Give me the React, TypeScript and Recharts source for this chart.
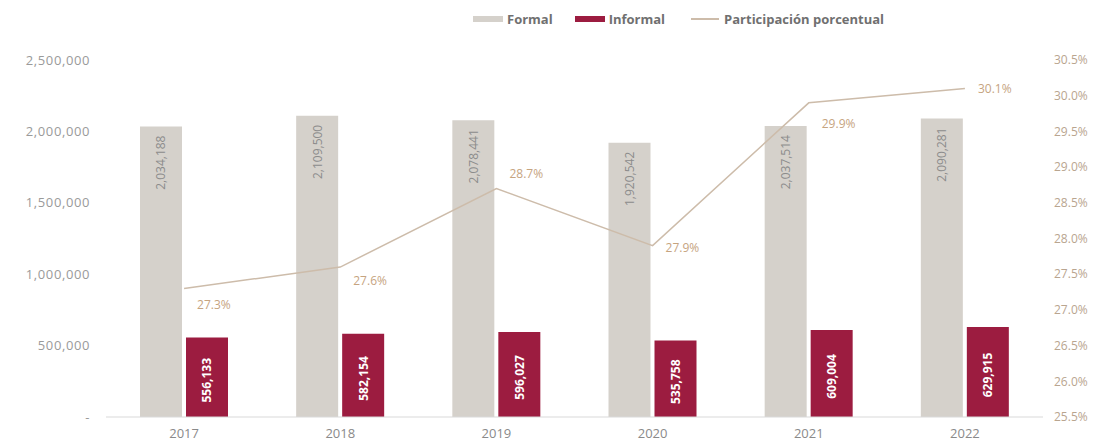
import React from 'react';
import {
  ComposedChart,
  Bar,
  Line,
  XAxis,
  YAxis,
  LabelList,
} from 'recharts';

const years = ['2017', '2018', '2019', '2020', '2021', '2022'];
const formal = [2034188, 2109500, 2078441, 1920542, 2037514, 2090281];
const informal = [556133, 582154, 596027, 535758, 609004, 629915];
const participacion = [27.3, 27.6, 28.7, 27.9, 29.9, 30.1];

const leftTicks = [0, 500000, 1000000, 1500000, 2000000, 2500000];
const rightTicks = [25.5, 26, 26.5, 27, 27.5, 28, 28.5, 29, 29.5, 30, 30.5];

const data = years.map((year, i) => ({
  year,
  formal: formal[i],
  informal: informal[i],
  pct: participacion[i],
}));

// vertical nudge of each percentage label relative to its point
const pctLabelDy = [16, 13, -15, 2, 21, 0];

const FONT = '"Open Sans", sans-serif';
const C_FORMAL = '#d5d1cb';
const C_INFORMAL = '#9c1c40';
const C_LINE = '#cdbcaa';
const C_PCT = '#c6a47f';

const fmt = (v: number) => v.toLocaleString('en-US');

const FormalLabel = (props: any) => {
  const { x, y, width, value } = props;
  const cx = x + width / 2;
  const ty = y + 9;
  return (
    <text
      x={cx}
      y={ty}
      transform={`rotate(-90, ${cx}, ${ty})`}
      textAnchor="end"
      dominantBaseline="central"
      fill="#8c8c8c"
      fontSize={12}
      fontFamily={FONT}
    >
      {fmt(value)}
    </text>
  );
};

const InformalLabel = (props: any) => {
  const { x, y, width, height, value } = props;
  const cx = x + width / 2;
  const cy = y + height / 2 + 3;
  return (
    <text
      x={cx}
      y={cy}
      transform={`rotate(-90, ${cx}, ${cy})`}
      textAnchor="middle"
      dominantBaseline="central"
      fill="#ffffff"
      fontSize={12}
      fontWeight={700}
      fontFamily={FONT}
    >
      {fmt(value)}
    </text>
  );
};

const PctLabel = (props: any) => {
  const { x, y, value, index } = props;
  return (
    <text
      x={x + 13}
      y={y + pctLabelDy[index]}
      textAnchor="start"
      dominantBaseline="central"
      fill={C_PCT}
      fontSize={12}
      fontFamily={FONT}
    >
      {value.toFixed(1)}%
    </text>
  );
};

const legendText: React.CSSProperties = {
  fontFamily: FONT,
  fontWeight: 700,
  fontSize: 13,
  color: '#707070',
};

const App = () => {
  return (
    <div style={{ position: 'relative', width: 1102, height: 445 }}>
      <style>{'body{margin:0}'}</style>
      <div
        style={{
          position: 'absolute',
          top: 10,
          left: 473,
          display: 'flex',
          alignItems: 'center',
          zIndex: 2,
        }}
      >
        <span style={{ width: 30, height: 6, background: C_FORMAL, marginRight: 4 }} />
        <span style={{ ...legendText, marginRight: 22 }}>Formal</span>
        <span style={{ width: 30, height: 6, background: C_INFORMAL, marginRight: 4 }} />
        <span style={{ ...legendText, marginRight: 26 }}>Informal</span>
        <span style={{ width: 28, height: 2, background: C_LINE, marginRight: 5 }} />
        <span style={legendText}>Participación porcentual</span>
      </div>
      <ComposedChart
        width={1102}
        height={445}
        data={data}
        margin={{ top: 60, right: 0, bottom: 0, left: 0 }}
      >
        <XAxis
          dataKey="year"
          height={28}
          tickLine={false}
          tickSize={0}
          tickMargin={12}
          axisLine={{ stroke: '#d9d9d9' }}
          tick={{ fill: '#8a8a8a', fontSize: 13, fontFamily: FONT }}
        />
        <YAxis
          yAxisId="left"
          width={106}
          domain={[0, 2500000]}
          ticks={leftTicks}
          tickFormatter={(v: number) => (v === 0 ? '-' : fmt(v))}
          axisLine={false}
          tickLine={false}
          tickSize={0}
          tickMargin={16}
          tick={{ fill: '#9a9a9a', fontSize: 13, fontFamily: FONT, letterSpacing: 0.6 }}
        />
        <YAxis
          yAxisId="right"
          orientation="right"
          width={59}
          domain={[25.5, 30.5]}
          ticks={rightTicks}
          tickFormatter={(v: number) => `${v.toFixed(1)}%`}
          axisLine={false}
          tickLine={false}
          tickSize={0}
          tickMargin={11}
          tick={{ fill: '#b9a58f', fontSize: 12, fontFamily: FONT }}
        />
        <Bar
          yAxisId="left"
          dataKey="formal"
          fill={C_FORMAL}
          barSize={42}
          isAnimationActive={false}
        >
          <LabelList dataKey="formal" content={FormalLabel} />
        </Bar>
        <Bar
          yAxisId="left"
          dataKey="informal"
          fill={C_INFORMAL}
          barSize={42}
          isAnimationActive={false}
        >
          <LabelList dataKey="informal" content={InformalLabel} />
        </Bar>
        <Line
          yAxisId="right"
          dataKey="pct"
          type="linear"
          stroke={C_LINE}
          strokeWidth={1.5}
          dot={false}
          isAnimationActive={false}
        >
          <LabelList dataKey="pct" content={PctLabel} />
        </Line>
      </ComposedChart>
    </div>
  );
};

export default App;
